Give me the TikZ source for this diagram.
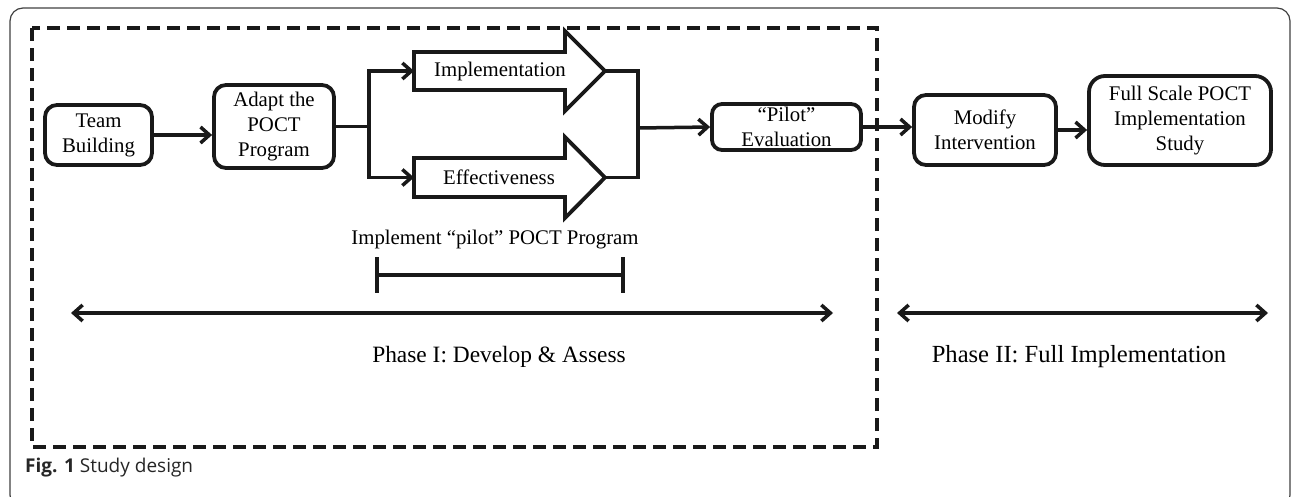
\documentclass[tikz,border=0pt]{standalone}
\usepackage{fontspec}
\setmainfont{Liberation Serif}
\newfontfamily\capfont{Open Sans}
\usetikzlibrary{arrows.meta,calc}
\begin{document}
\begin{tikzpicture}[x=1pt,y=-1pt,
  txt/.style={font=\fontsize{20.8}{25}\selectfont, align=center, inner sep=0pt},
  rbox/.style={txt, draw=black!90, line width=3.8pt, rounded corners=12pt},
  conn/.style={draw=black!90, line width=3.5pt},
  arr/.style={conn, -{Straight Barb[length=9pt,width=16pt]}},
  darr/.style={conn, {Straight Barb[length=9pt,width=16pt]}-{Straight Barb[length=9pt,width=16pt]}},
  bigarrow/.style={draw=black!90, line width=3.8pt, line join=miter},
  frame/.style={draw=black!75, line width=1.2pt, rounded corners=13pt},
  phase/.style={draw=black!90, line width=4.5pt, dash pattern=on 13pt off 7pt}
]
\useasboundingbox (0,0) rectangle (1292,496);
\begin{scope}
\clip (0,0) rectangle (1292,496);
\draw[frame] (10,8) rectangle (1290,508);
\end{scope}

% phase I dashed box
\draw[phase] (32,28) rectangle (877,447);

% boxes
\node[rbox, minimum width=107pt, minimum height=60pt] (team) at (98.5,135) {Team\\Building};
\node[rbox, minimum width=120pt, minimum height=83pt] (adapt) at (274,126.5) {Adapt the\\POCT\\Program};
\node[rbox, minimum width=149pt, minimum height=46pt, rounded corners=10pt] (pilot) at (786.5,127) {``Pilot''\\Evaluation};
\node[rbox, minimum width=142pt, minimum height=70pt] (modify) at (985,130) {Modify\\Intervention};
\node[rbox, minimum width=182pt, minimum height=89pt, rounded corners=16pt] (full) at (1180,120.5) {Full Scale POCT\\Implementation\\Study};

% big arrows
\coordinate (implbase) at (414,71);
\coordinate (impltip) at (605,71);
\coordinate (effbase) at (414,177.5);
\coordinate (efftip) at (605,177.5);
\draw[bigarrow] ($(implbase)+(0,-19)$) -- (565,52) -- (565,31) -- (impltip) -- (565,111) -- (565,90) -- ($(implbase)+(0,19)$) -- cycle;
\draw[bigarrow] ($(effbase)+(0,-19.5)$) -- (565,158) -- (565,137) -- (efftip) -- (565,218) -- (565,197) -- ($(effbase)+(0,19.5)$) -- cycle;
\node[txt] (impl) at (500,71) {Implementation};
\node[txt] (eff) at (499,177.5) {Effectiveness};

% connectors
\draw[arr] (team.east) -- (adapt.west |- team.east);
\coordinate (split) at (369,126.5);
\draw[conn] (adapt.east) -- (split);
\draw[arr] (split) |- (implbase);
\draw[arr] (split) |- (effbase);
\coordinate (merge) at (638,128);
\draw[conn, line join=miter] (impltip) -| (merge) |- (efftip);
\draw[arr] (merge) -- (pilot.west);
\draw[arr] (pilot.east) -- (modify.west |- pilot.east);
\draw[arr] (modify.east) -- (full.west |- modify.east);

% pilot interval
\node[txt] (implpilot) at (495,240) {Implement ``pilot'' POCT Program};
\coordinate (ia) at (377,275);
\coordinate (ib) at (623,275);
\draw[conn] (ia) -- (ib);
\draw[conn] ($(ia)+(0,-18)$) -- ($(ia)+(0,18)$);
\draw[conn] ($(ib)+(0,-18)$) -- ($(ib)+(0,18)$);

% phases
\coordinate (p1a) at (71,313);
\coordinate (p1b) at (833,313);
\coordinate (p2a) at (897,313);
\coordinate (p2b) at (1268,313);
\draw[darr] (p1a) -- (p1b);
\draw[darr] (p2a) -- (p2b);
\node[txt, font=\fontsize{23.4}{28}\selectfont] (ph1) at (499,357) {Phase I: Develop \& Assess};
\node[txt, font=\fontsize{24.6}{28}\selectfont] (ph2) at (1079,357) {Phase II: Full Implementation};

% caption
\node[anchor=west, inner sep=0pt, font=\capfont\fontsize{19}{22}\selectfont, text=black!85] (cap) at (25,468) {\textbf{Fig. 1} Study design};
\end{tikzpicture}
\end{document}
